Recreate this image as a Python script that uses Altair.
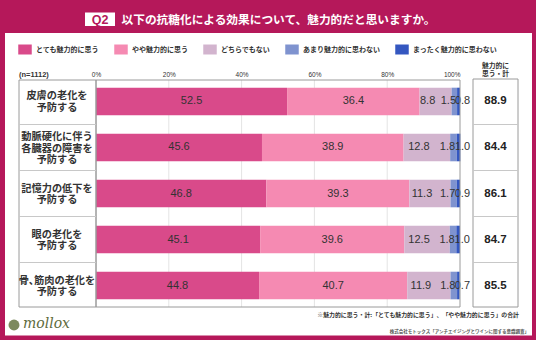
import altair as alt
import pandas as pd

# ---------------- data ----------------
items = ["皮膚の老化を\n予防する",
         "動脈硬化に伴う\n各臓器の障害を\n予防する",
         "記憶力の低下を\n予防する",
         "眼の老化を\n予防する",
         "骨､筋肉の老化を\n予防する"]
responses = ["とても魅力的に思う", "やや魅力的に思う", "どちらでもない",
             "あまり魅力的に思わない", "まったく魅力的に思わない"]
very = [52.5, 45.6, 46.8, 45.1, 44.8]
somewhat = [36.4, 38.9, 39.3, 39.6, 40.7]
neither = [8.8, 12.8, 11.3, 12.5, 11.9]
not_much = [1.5, 1.8, 1.7, 1.8, 1.8]
not_at_all = [0.8, 1.0, 0.9, 1.0, 0.7]
totals = [88.9, 84.4, 86.1, 84.7, 85.5]
ticks = [0, 20, 40, 60, 80, 100]
colors = ["#D94A8A", "#F58AB2", "#D2B4CE", "#7F93CF", "#3457C0"]

MAGENTA = "#B5185A"
JP = "Noto Sans CJK JP"
NUM = "Liberation Sans"

series = [very, somewhat, neither, not_much, not_at_all]
rows = []
for i, it in enumerate(items):
    cum = 0.0
    for j, r in enumerate(responses):
        v = series[j][i]
        rows.append({"item": it, "resp": r, "order": j, "value": v,
                     "start": cum, "end": cum + v, "mid": cum + v / 2})
        cum += v
df = pd.DataFrame(rows)
tot_df = pd.DataFrame({"item": items, "total": totals})
sep_df = pd.DataFrame({"item": items[:4]})
lab_df = pd.DataFrame({"item": items, "lines": [s.count("\n") + 1 for s in items]})
one = pd.DataFrame({"k": [0]})

W, H = 364, 227
ysc = alt.Scale(domain=items, paddingInner=0.4, paddingOuter=0.167)


def Y():
    return alt.Y("item:N", sort=items, scale=ysc, axis=None)


xsc = alt.Scale(domain=[0, 100], nice=False)

# ---------------- decorative frame ----------------
panel = alt.Chart(one).mark_rect(color="white").encode(
    x=alt.value(-91), x2=alt.value(436), y=alt.value(-47), y2=alt.value(255.5))
qbox = alt.Chart(one).mark_rect(color="white").encode(
    x=alt.value(-11), x2=alt.value(19), y=alt.value(-67.5), y2=alt.value(-54))
qtext = alt.Chart(one).mark_text(text="Q2", font=NUM, fontSize=12.5, fontWeight="bold",
                                 color=MAGENTA, baseline="middle", align="center").encode(
    x=alt.value(4), y=alt.value(-60.5))
title = alt.Chart(one).mark_text(text="以下の抗糖化による効果について、魅力的だと思いますか。",
                                 font=JP, fontSize=11.7, fontWeight="bold", color="white",
                                 baseline="middle", align="left").encode(
    x=alt.value(25.5), y=alt.value(-60.5))

# ---------------- plot ----------------
grid = alt.Chart(pd.DataFrame({"t": ticks[1:-1]})).mark_rule(color="#E4E4E4", strokeWidth=1).encode(
    x=alt.X("t:Q", scale=xsc), y=alt.value(0), y2=alt.value(H))

bars = alt.Chart(df).mark_bar().encode(
    x=alt.X("start:Q", scale=xsc,
            axis=alt.Axis(orient="top", values=ticks, labelExpr="datum.value + '%'",
                          domain=False, ticks=False, grid=False, labelFontSize=6.5,
                          labelFont=NUM, labelColor="#333333", labelPadding=3,
                          labelFlush=False,
                          labelAlign=alt.ExprRef(expr="datum.value == 100 ? 'right' : 'center'"),
                          title=None, zindex=1)),
    x2="end:Q",
    y=Y(),
    color=alt.Color("resp:N", scale=alt.Scale(domain=responses, range=colors),
                    legend=alt.Legend(orient="none", legendX=-76, legendY=-35.5,
                                      direction="horizontal", columns=5, title=None,
                                      symbolType="M-1.35,-1H1.35V1H-1.35Z", symbolSize=100,
                                      symbolStrokeWidth=0, symbolOpacity=1,
                                      labelFont=JP, labelFontSize=7.0, labelFontWeight="bold",
                                      labelColor="#333333", labelOffset=6,
                                      columnPadding=15, padding=0, zindex=1)),
    order=alt.Order("order:Q"),
)


def seg_text(cond, dx):
    return alt.Chart(df).transform_filter(cond).mark_text(
        font=NUM, fontSize=11, color="#333333", baseline="middle", align="center", dx=dx).encode(
        x=alt.X("mid:Q", scale=xsc), y=Y(), text=alt.Text("value:Q", format=".1f"))


txt_main = seg_text("datum.order < 2", 0)
txt_3 = seg_text("datum.order == 2", -8)
txt_4 = seg_text("datum.order == 3", -6)
txt_5 = seg_text("datum.order == 4", 4)

border = alt.Chart(one).mark_rect(fillOpacity=0, stroke="#9A9A9A", strokeWidth=1).encode(
    x=alt.value(0), x2=alt.value(W), y=alt.value(0), y2=alt.value(H))

# ---------------- left label column ----------------
lbox = alt.Chart(one).mark_rect(fillOpacity=0, stroke="#9A9A9A", strokeWidth=1).encode(
    x=alt.value(-77), x2=alt.value(0), y=alt.value(0), y2=alt.value(H))
lsep = alt.Chart(sep_df).mark_rule(color="#C8C8C8", strokeWidth=1, yOffset=23).encode(
    y=Y(), x=alt.value(-77), x2=alt.value(0))


def item_text(n, dy):
    return alt.Chart(lab_df).transform_filter(f"datum.lines == {n}").mark_text(
        font=JP, fontSize=10.2, fontWeight="bold", color="#333333", lineBreak="\n",
        lineHeight=11.7, align="center", baseline="middle", dy=dy).encode(
        y=Y(), x=alt.value(-39), text="item:N")


ltext2 = item_text(2, -5)
ltext3 = item_text(3, -10.5)
ntext = alt.Chart(one).mark_text(text="(n=1112)", font=NUM, fontSize=7.5, fontWeight="bold",
                                 color="#333333", align="left", baseline="middle").encode(
    x=alt.value(-77), y=alt.value(-5.5))

# ---------------- totals column ----------------
tbox = alt.Chart(one).mark_rect(fillOpacity=0, stroke="#9A9A9A", strokeWidth=1).encode(
    x=alt.value(377), x2=alt.value(422), y=alt.value(-1), y2=alt.value(H))
tsep = alt.Chart(sep_df).mark_rule(color="#C8C8C8", strokeWidth=1, yOffset=23).encode(
    y=Y(), x=alt.value(377), x2=alt.value(422))
thead = alt.Chart(one).mark_text(text="魅力的に\n思う・計", font=JP, fontSize=6.8, fontWeight="bold",
                                 color="#333333", lineBreak="\n", lineHeight=7.5,
                                 align="center", baseline="middle").encode(
    x=alt.value(399.5), y=alt.value(-14))
ttext = alt.Chart(tot_df).mark_text(font=NUM, fontSize=11.5, fontWeight="bold", color="#222222",
                                    align="center", baseline="middle").encode(
    y=Y(), x=alt.value(399.5), text=alt.Text("total:Q", format=".1f"))

# ---------------- footer ----------------
note = alt.Chart(one).mark_text(text="※魅力的に思う・計:「とても魅力的に思う」、「やや魅力的に思う」の合計",
                                font=JP, fontSize=5.9, fontWeight="bold", color="#333333",
                                align="right", baseline="middle").encode(
    x=alt.value(423), y=alt.value(234.5))
source = alt.Chart(one).mark_text(text="株式会社モトックス「アンチエイジングとワインに関する意識調査」",
                                  font=JP, fontSize=4.5, fontWeight="bold", color="#555555",
                                  align="right", baseline="middle").encode(
    x=alt.value(433), y=alt.value(251.5))
logo_dot = alt.Chart(one).mark_point(filled=True, size=120, color="#7D8A5E", opacity=1).encode(
    x=alt.value(-82), y=alt.value(245))
logo = alt.Chart(one).mark_text(text="mollox", font="DejaVu Serif", fontSize=14,
                                fontStyle="italic", color="#5E6B3C", align="left",
                                baseline="middle").encode(
    x=alt.value(-73), y=alt.value(244))

chart = alt.layer(
    panel, qbox, qtext, title, grid, bars, txt_main, txt_3, txt_4, txt_5, border,
    lbox, lsep, ltext2, ltext3, ntext, tbox, tsep, thead, ttext, note, source, logo_dot, logo
).properties(
    width=W, height=H,
    autosize=alt.AutoSizeParams(type="none"),
    padding={"left": 96, "top": 80, "right": 76, "bottom": 33},
    background=MAGENTA,
).configure_view(strokeWidth=0)

chart.save("out.html", embed_options={"renderer": "svg", "actions": False})
